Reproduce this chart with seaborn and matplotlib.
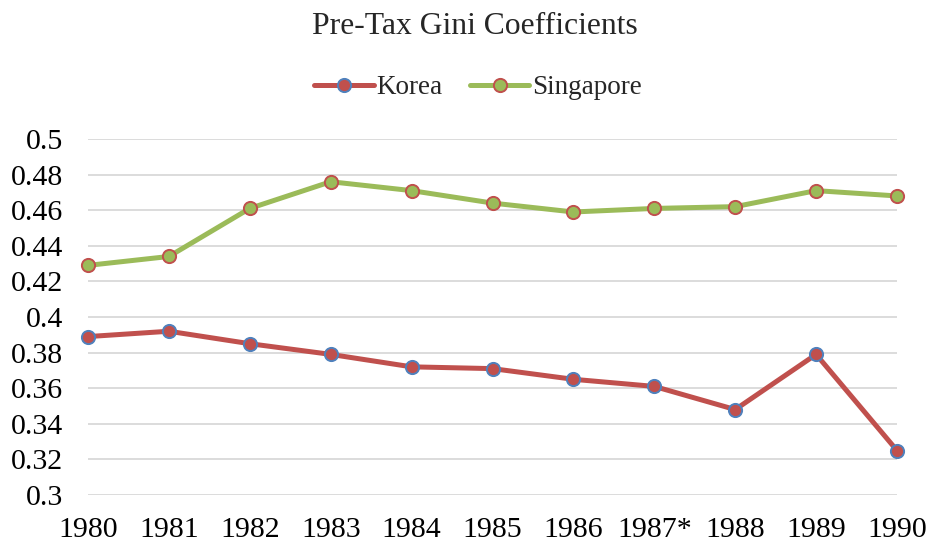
import matplotlib
matplotlib.use("Agg")
import matplotlib.pyplot as plt
import seaborn as sns
import pandas as pd

years = ["1980", "1981", "1982", "1983", "1984", "1985", "1986", "1987*", "1988", "1989", "1990"]
korea = [0.389, 0.392, 0.385, 0.379, 0.372, 0.371, 0.365, 0.361, 0.348, 0.379, 0.325]
singapore = [0.429, 0.434, 0.461, 0.476, 0.471, 0.464, 0.459, 0.461, 0.462, 0.471, 0.468]
yticks = [0.3, 0.32, 0.34, 0.36, 0.38, 0.4, 0.42, 0.44, 0.46, 0.48, 0.5]
ytick_labels = ["0.3", "0.32", "0.34", "0.36", "0.38", "0.4", "0.42", "0.44", "0.46", "0.48", "0.5"]

sns.set_theme(style="white")
plt.rcParams["font.family"] = ["Liberation Serif", "DejaVu Serif"]

pos = list(range(len(years)))
df_k = pd.DataFrame({"pos": pos, "value": korea})
df_s = pd.DataFrame({"pos": pos, "value": singapore})

fig = plt.figure(figsize=(9.28, 5.42), dpi=100)
ax = fig.add_axes([88 / 928, 1 - 495 / 542, (897 - 88) / 928, (495 - 139) / 542])

sns.lineplot(data=df_k, x="pos", y="value", ax=ax, color="#C0504D", linewidth=3.6,
             marker="o", markersize=9.5, markerfacecolor="#C0504D", markeredgecolor="#4F81BD",
             markeredgewidth=1.4, label="Korea", zorder=3, clip_on=False)
sns.lineplot(data=df_s, x="pos", y="value", ax=ax, color="#9BBB59", linewidth=3.6,
             marker="o", markersize=9.5, markerfacecolor="#9BBB59", markeredgecolor="#C0504D",
             markeredgewidth=1.4, label="Singapore", zorder=3, clip_on=False)

ax.set_xlim(0, len(years) - 1)
ax.set_ylim(0.3, 0.5)
ax.set_xticks(pos)
ax.set_xticklabels(years)
ax.set_yticks(yticks)
ax.set_yticklabels(ytick_labels)
ax.set_xlabel("")
ax.set_ylabel("")
ax.tick_params(axis="both", labelsize=21.5, length=0, colors="#000000")
ax.tick_params(axis="x", pad=16)
ax.tick_params(axis="y", pad=18)
ax.yaxis.grid(True, color="#D9D9D9", linewidth=1.3)
ax.xaxis.grid(False)
for s in ax.spines.values():
    s.set_visible(False)

leg = ax.legend(loc="center", bbox_to_anchor=(478 / 928, 1 - 88 / 542), bbox_transform=fig.transFigure,
                ncol=2, frameon=False, fontsize=19.5, handlelength=2.2, handletextpad=0.1,
                columnspacing=1.0)

fig.text(0.5 + 11 / 928, 1 - 27 / 542, "Pre-Tax Gini Coefficients", ha="center", va="center", fontsize=22.8)

fig.savefig("out.png", dpi=100)
